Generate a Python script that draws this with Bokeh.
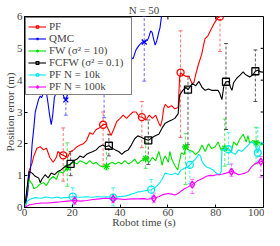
from bokeh.plotting import figure
from bokeh.models import (ColumnDataSource, Whisker, TeeHead, Legend, LegendItem,
                          FixedTicker, Range1d)
from bokeh.embed import file_html
from bokeh.resources import INLINE

FONT = "Liberation Serif"

title_text = "N = 50"
x_label = "Robot time (s)"
y_label = "Position error (m)"
x_ticks = [0, 20, 40, 60, 80, 100]
y_ticks = [0, 1, 2, 3, 4, 5, 6]

# ---- PF ----
pf_t = [0, 0.5, 1.2, 1.9, 2.5, 3.2, 3.9, 5.2, 6.6, 7.9, 9.2, 10.6, 12.0, 13.3, 14.0, 15.3, 16.2,
        17.9, 19.3, 20.6, 22.0, 23.3, 24.6, 26.0, 27.3, 28.6, 30.0, 31.3, 32.9, 34.0, 35.4, 36.2,
        37.3, 38.6, 40.0, 41.3, 42.7, 44.0, 45.4, 46.7, 48.0, 49.1, 50.8, 52.2, 53.5, 54.9, 56.2,
        56.9, 57.6, 58.2, 58.9, 60.2, 61.5, 62.9, 64.3, 64.9, 65.3, 66.2, 67.5, 68.8, 70.2, 70.9,
        71.6, 72.8, 74.1, 75.5, 76.8, 78.1, 79.5, 80.8, 81.8, 83.0]
pf_v = [0, 0.05, 0.6, 1.15, 1.27, 1.4, 1.62, 1.86, 1.91, 1.81, 1.86, 1.57, 1.42, 1.57, 1.76, 1.67, 1.64,
        1.57, 1.76, 1.81, 1.91, 1.96, 2.0, 2.11, 2.35, 2.3, 2.45, 2.5, 2.6, 2.62, 2.4, 2.26,
        2.45, 2.7, 2.8, 2.9, 2.8, 2.9, 3.0, 3.0, 2.85, 2.84, 2.75, 2.9, 2.8, 2.9, 2.65,
        2.55, 2.75, 3.1, 3.24, 3.14, 3.2, 3.1, 3.14, 4.08, 4.24, 4.17, 4.12, 4.12, 3.88, 3.93,
        4.17, 4.5, 4.8, 5.3, 5.4, 5.6, 5.8, 5.95, 6.0, 6.4]
pf_mx = [16.2, 32.9, 49.1, 65.3, 81.8]
pf_my = [1.64, 2.6, 2.84, 4.24, 6.0]
pf_lo = [0.83, 1.3, 1.88, 2.2, 4.9]
pf_hi = [2.5, 3.0, 3.33, 5.55, 6.0]

# ---- QMC ----
qmc_t = [0, 0.7, 1.3, 1.9, 2.5, 3.2, 3.9, 4.5, 5.2, 5.9, 6.6, 7.2, 7.9, 8.5, 9.2, 9.8, 10.5, 11.2,
         11.8, 12.5, 13.2, 13.9, 14.5, 15.2, 15.9, 16.6, 17.3, 18.0, 18.6, 19.3, 19.9, 20.6, 21.3,
         22.0, 22.6, 23.3, 23.9, 24.6, 25.2, 25.9, 26.6, 27.3, 27.9, 28.6, 29.2, 29.9, 30.6, 31.3,
         31.9, 32.6, 33.3, 34.6, 36.0, 37.5, 39.0, 40.5, 42.0, 43.2, 44.0, 45.4, 46.7, 48.0, 49.4,
         50.1, 51.4, 52.0, 52.8, 53.4, 54.0, 54.7, 55.4, 56.0, 56.7, 57.4, 58.0]
qmc_v = [0, 0.2, 0.45, 0.9, 1.2, 2.0, 2.5, 3.0, 3.2, 3.4, 3.5, 3.45, 3.6, 3.75, 3.6, 3.3, 2.9, 2.6,
         2.9, 3.45, 3.6, 3.7, 3.55, 3.75, 3.6, 3.45, 3.38, 3.55, 3.7, 3.6, 3.55, 3.7, 3.85,
         3.95, 3.9, 3.75, 3.8, 3.95, 3.98, 4.05, 4.1, 3.95, 3.88, 4.0, 4.06, 4.12, 4.05, 3.95,
         4.0, 4.1, 4.05, 4.15, 4.3, 4.2, 4.4, 4.5, 4.6, 4.75, 4.76, 4.67, 4.96, 5.1, 5.2,
         5.2, 5.25, 5.35, 5.55, 5.5, 5.3, 5.1, 5.25, 5.45, 5.65, 6.05, 6.5]
qmc_mx = [17.3, 33.3, 50.1]
qmc_my = [3.38, 4.05, 5.2]
qmc_lo = [2.9, 2.82, 3.97]
qmc_hi = [4.4, 4.6, 6.0]

# ---- FW ----
fw_t = [0, 0.6, 1.2, 1.9, 3.2, 3.9, 5.2, 6.6, 7.9, 9.2, 10.6, 12.0, 13.3, 14.6, 16.0, 17.9, 19.3,
        20.6, 22.0, 23.3, 24.6, 26.0, 27.3, 28.7, 30.0, 31.3, 32.7, 34.3, 35.3, 36.7, 38.0, 39.4,
        40.7, 42.0, 43.4, 44.7, 46.1, 47.4, 48.8, 50.7, 52.2, 53.5, 54.9, 56.2, 56.9, 57.6, 58.2,
        58.9, 60.2, 60.8, 61.6, 62.9, 64.1, 65.6, 66.8, 67.4, 68.9, 70.3, 71.6, 73.0, 74.3, 75.6,
        77.0, 78.3, 79.7, 81.0, 82.3, 83.8, 85.2, 86.5, 87.5, 88.8, 90.2, 91.5, 92.8, 93.5, 94.2,
        95.5, 96.9, 98.2, 98.9, 100]
fw_v = [0, 0.3, 0.64, 0.88, 0.74, 0.59, 0.64, 0.74, 0.78, 0.69, 0.88, 0.98, 0.88, 1.13, 1.08, 1.25, 1.37,
        1.42, 1.37, 1.47, 1.42, 1.37, 1.47, 1.37, 1.42, 1.32, 1.27, 1.29, 1.37, 1.42, 1.37, 1.42,
        1.37, 1.47, 1.37, 1.42, 1.52, 1.37, 1.47, 1.54, 1.42, 1.57, 1.47, 1.76, 1.57, 1.32, 1.52,
        1.62, 1.42, 1.76, 1.52, 1.32, 1.18, 1.72, 1.66, 1.9, 1.8, 1.77, 1.66, 1.76, 1.96, 1.76,
        2.0, 1.85, 1.9, 2.06, 1.8, 1.86, 1.82, 1.75, 2.06, 1.95, 2.16, 2.3, 2.06, 2.26, 2.03,
        2.1, 2.03, 2.06, 1.96, 2.0]
fw_mx = [17.9, 34.3, 50.7, 67.4, 83.8, 96.9]
fw_my = [1.25, 1.29, 1.54, 1.9, 1.86, 2.03]
fw_lo = [0.67, 1.18, 1.23, 0.72, 1.3, 1.37]
fw_hi = [2.03, 1.84, 2.05, 2.32, 2.78, 2.52]

# ---- FCFW ----
fcfw_t = [0, 0.6, 1.2, 1.9, 3.2, 4.5, 5.9, 6.6, 7.2, 8.6, 9.9, 11.2, 12.6, 13.9, 15.3, 16.6, 17.9,
          19.3, 20.6, 22.0, 23.3, 24.6, 26.0, 27.3, 28.7, 30.0, 31.3, 32.7, 34.0, 35.3, 36.7, 38.0,
          39.4, 40.7, 42.0, 43.4, 44.7, 46.1, 47.4, 48.8, 50.0, 51.8, 53.5, 54.9, 56.2, 57.6, 58.9,
          60.2, 61.6, 62.9, 64.3, 64.9, 66.2, 67.5, 68.4, 70.3, 71.6, 73.0, 74.3, 75.6, 77.0, 78.3,
          79.7, 81.0, 81.7, 82.6, 83.4, 84.3, 85.5, 86.2, 86.8, 87.5, 88.8, 90.2, 91.5, 92.2, 92.8,
          94.2, 95.5, 96.6, 97.5, 98.9, 100]
fcfw_v = [0, 0.3, 0.69, 1.13, 1.08, 0.98, 0.93, 0.78, 0.88, 1.03, 0.93, 1.08, 1.03, 1.13, 1.18, 1.27, 1.32,
          1.37, 1.47, 1.52, 1.62, 1.57, 1.67, 1.72, 1.76, 1.81, 1.91, 1.96, 1.91, 1.94, 1.86, 1.81,
          1.76, 1.67, 1.76, 1.81, 1.96, 2.16, 2.25, 2.21, 2.16, 2.11, 2.2, 2.26, 2.3, 2.5, 2.65,
          2.7, 2.75, 2.8, 2.95, 3.53, 3.68, 3.77, 3.7, 3.9, 3.82, 3.96, 3.77, 3.68, 3.72, 3.68,
          3.68, 3.68, 3.58, 3.39, 3.82, 3.95, 3.96, 3.77, 3.68, 3.92, 4.06, 4.16, 4.26, 4.2, 4.16,
          4.1, 4.16, 4.28, 4.31, 4.26, 4.25]
fcfw_mx = [19.3, 35.3, 51.8, 68.4, 84.3, 96.6]
fcfw_my = [1.37, 1.94, 2.11, 3.7, 3.95, 4.28]
fcfw_lo = [1.0, 1.62, 1.35, 1.97, 2.45, 3.33]
fcfw_hi = [1.76, 2.3, 2.75, 4.12, 5.15, 4.95]

# ---- PF N = 10k ----
pf10_t = [0, 0.5, 1.2, 1.9, 3.2, 4.5, 5.9, 7.2, 8.6, 9.9, 11.2, 12.6, 13.9, 15.3, 16.6, 17.9, 19.0,
          20.2, 21.7, 23.3, 24.6, 26.0, 27.3, 28.7, 30.0, 31.3, 32.7, 34.0, 35.5, 37.1, 38.2, 39.3,
          40.7, 42.0, 43.3, 44.7, 46.0, 47.4, 48.7, 50.0, 51.4, 53.0, 54.8, 56.2, 57.5, 58.8, 60.2,
          61.6, 62.9, 64.3, 65.0, 65.6, 66.9, 68.3, 69.2, 70.2, 71.5, 72.9, 73.6, 74.2, 74.9, 76.2,
          77.6, 78.9, 80.2, 81.6, 82.3, 82.6, 84.0, 85.3, 86.9, 88.2, 89.6, 90.9, 92.3, 93.6, 94.9,
          96.3, 97.6, 99.0, 100]
pf10_v = [0, 0.1, 0.2, 0.24, 0.28, 0.31, 0.3, 0.29, 0.33, 0.32, 0.3, 0.31, 0.33, 0.29, 0.31, 0.31, 0.33,
          0.34, 0.33, 0.32, 0.33, 0.34, 0.33, 0.32, 0.34, 0.34, 0.33, 0.34, 0.33, 0.31, 0.33, 0.34,
          0.35, 0.36, 0.38, 0.42, 0.45, 0.49, 0.5, 0.52, 0.54, 0.56, 0.64, 0.74, 0.88, 1.08, 1.05,
          1.03, 1.08, 1.03, 1.13, 1.18, 1.23, 1.27, 1.34, 1.42, 1.52, 1.67, 1.62, 1.47, 1.37, 1.27,
          1.23, 1.18, 1.08, 1.03, 1.13, 1.81, 1.83, 1.83, 1.72, 1.67, 1.81, 1.76, 1.86, 1.96, 2.06,
          2.01, 1.72, 2.06, 2.0]
pf10_mx = [20.2, 37.1, 53.0, 69.2, 85.3, 97.6]
pf10_my = [0.34, 0.31, 0.56, 1.34, 1.83, 1.72]
pf10_lo = [0.05, 0.05, 0.3, 0.75, 1.35, 1.4]
pf10_hi = [0.62, 0.62, 0.88, 1.75, 2.35, 2.5]

# ---- PF N = 100k ----
pf100_t = [0, 0.5, 1.9, 4.5, 7.2, 9.9, 12.6, 15.3, 17.9, 21.0, 23.3, 26.0, 28.7, 31.3, 34.0, 37.1,
           39.3, 42.0, 44.7, 47.4, 50.0, 51.4, 54.1, 56.2, 57.5, 58.8, 60.2, 61.6, 62.9, 64.3, 65.6,
           66.9, 68.3, 70.2, 72.2, 73.6, 74.9, 76.2, 77.6, 78.9, 80.2, 81.6, 82.9, 84.3, 86.6, 88.2,
           89.6, 90.9, 92.3, 93.6, 94.9, 96.3, 98.9, 100]
pf100_v = [0, 0.02, 0.08, 0.12, 0.14, 0.14, 0.16, 0.18, 0.2, 0.22, 0.2, 0.22, 0.25, 0.27, 0.29, 0.27,
           0.27, 0.25, 0.27, 0.27, 0.28, 0.26, 0.29, 0.34, 0.39, 0.42, 0.44, 0.42, 0.39, 0.44, 0.52,
           0.59, 0.64, 0.72, 0.83, 0.88, 0.93, 0.98, 1.01, 1.0, 1.03, 1.03, 1.05, 1.08, 1.13, 1.08,
           1.03, 1.05, 1.08, 1.13, 1.27, 1.37, 1.44, 1.47]
pf100_mx = [21.0, 37.1, 54.1, 70.2, 86.6, 98.9]
pf100_my = [0.22, 0.27, 0.29, 0.72, 1.13, 1.44]
pf100_lo = [0.1, 0.15, 0.15, 0.44, 0.98, 0.95]
pf100_hi = [0.35, 0.4, 0.45, 0.88, 1.37, 1.6]

series = [
    ("PF", pf_t, pf_v, pf_mx, pf_my, pf_lo, pf_hi, "#ff0000", "#ff5050", "circle"),
    ("QMC", qmc_t, qmc_v, qmc_mx, qmc_my, qmc_lo, qmc_hi, "#0000ff", "#4a4aff", "x"),
    ("FW (σ² = 10)", fw_t, fw_v, fw_mx, fw_my, fw_lo, fw_hi, "#00e000", "#30e030", "asterisk"),
    ("FCFW (σ² = 0.1)", fcfw_t, fcfw_v, fcfw_mx, fcfw_my, fcfw_lo, fcfw_hi, "#000000", "#303030", "square"),
    ("PF N = 10k", pf10_t, pf10_v, pf10_mx, pf10_my, pf10_lo, pf10_hi, "#00e8f0", "#30e8f0", "circle"),
    ("PF N = 100k", pf100_t, pf100_v, pf100_mx, pf100_my, pf100_lo, pf100_hi, "#ff00ff", "#ff50ff", "diamond"),
]

X0, X1, Y0, Y1 = 0, 100, 0, 6
p = figure(width=264, height=230, output_backend="svg", toolbar_location=None,
           x_range=Range1d(X0, X1), y_range=Range1d(Y0, Y1),
           min_border_left=0, min_border_right=1, min_border_top=0, min_border_bottom=0)

p.title.text = title_text
p.title.align = "center"
p.title.text_font = FONT
p.title.text_font_size = "11px"
p.title.text_font_style = "normal"
p.title.text_line_height = 0.8
p.title.standoff = 2

p.grid.visible = False
p.outline_line_color = "black"
p.outline_line_width = 1
p.background_fill_color = "white"
p.border_fill_color = "white"

for ax in (p.xaxis[0], p.yaxis[0]):
    ax.major_tick_in = 3
    ax.major_tick_out = 0
    ax.minor_tick_in = 0
    ax.minor_tick_out = 0
    ax.major_label_text_font = FONT
    ax.major_label_text_font_size = "11px"
    ax.major_label_text_line_height = 0.8
    ax.axis_label_text_font = FONT
    ax.axis_label_text_font_size = "11px"
    ax.axis_label_text_font_style = "normal"
    ax.axis_label_text_line_height = 0.8
    ax.axis_line_color = "black"
    ax.major_tick_line_color = "black"
p.xaxis[0].major_label_standoff = 1
p.xaxis[0].axis_label_standoff = -3
p.yaxis[0].major_label_standoff = 2
p.yaxis[0].axis_label_standoff = -2
p.xaxis[0].ticker = FixedTicker(ticks=x_ticks)
p.yaxis[0].ticker = FixedTicker(ticks=y_ticks)
p.xaxis[0].axis_label = x_label
p.yaxis[0].axis_label = y_label

# mirrored inward ticks on the right and top edges (matlab box style)
tick_dx = 0.012 * (X1 - X0)
tick_dy = 0.016 * (Y1 - Y0)
p.segment(x0=[X1] * len(y_ticks), y0=y_ticks, x1=[X1 - tick_dx] * len(y_ticks), y1=y_ticks,
          line_color="black", line_width=1)
p.segment(x0=x_ticks, y0=[Y1] * len(x_ticks), x1=x_ticks, y1=[Y1 - tick_dy] * len(x_ticks),
          line_color="black", line_width=1)

items = []
for name, t, v, mx, my, lo, hi, col, ecol, mk in series:
    src = ColumnDataSource(dict(base=mx, lower=lo, upper=hi))
    w = Whisker(source=src, base="base", lower="lower", upper="upper",
                line_color=ecol, line_dash="3 2", line_width=1, line_alpha=0.8,
                upper_head=TeeHead(size=4, line_color=ecol, line_alpha=0.8, line_width=1),
                lower_head=TeeHead(size=4, line_color=ecol, line_alpha=0.8, line_width=1))
    p.add_layout(w)
    lr = p.line(t, v, line_color=col, line_width=1.1)
    fill = col if mk in ("asterisk", "x") else None
    mr = p.scatter(mx, my, marker=mk, size=7, line_color=col, fill_color=fill, line_width=1.3)
    items.append(LegendItem(label=name, renderers=[lr, mr]))

legend = Legend(items=items, location="top_left",
                label_text_font=FONT, label_text_font_size="11px",
                glyph_width=18, glyph_height=7, label_height=7, label_standoff=3,
                label_width=80, spacing=-1, padding=2, margin=1,
                border_line_color="black", border_line_width=0.8,
                background_fill_color="white", background_fill_alpha=1)
p.add_layout(legend)

open("out.html", "w").write(file_html(p, INLINE))
